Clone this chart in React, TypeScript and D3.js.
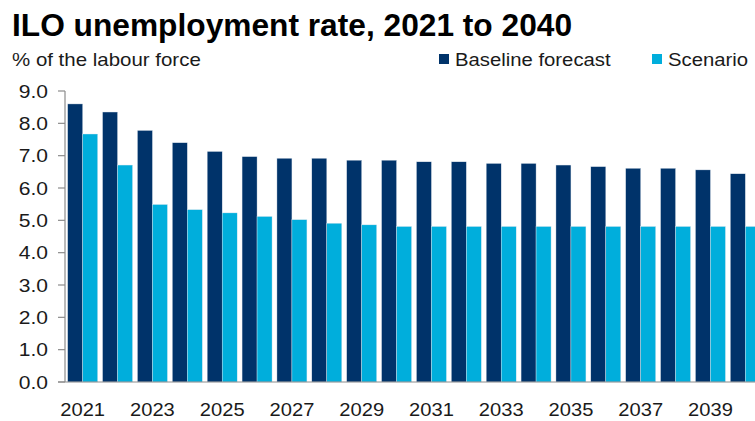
import React from "react";
import * as d3 from "d3";

const years = d3.range(2021, 2041).map(String);
const baseline = [8.6, 8.35, 7.78, 7.4, 7.13, 6.97, 6.92, 6.92, 6.86, 6.86, 6.81, 6.81, 6.76, 6.76, 6.71, 6.66, 6.61, 6.61, 6.56, 6.44];
const scenario = [7.67, 6.71, 5.49, 5.33, 5.23, 5.12, 5.02, 4.91, 4.86, 4.81, 4.81, 4.81, 4.81, 4.81, 4.81, 4.81, 4.81, 4.81, 4.81, 4.81];
const yTicks = [0, 1, 2, 3, 4, 5, 6, 7, 8, 9];
const xLabelYears = years.filter((_, i) => i % 2 === 0);
const seriesNames = ["Baseline forecast", "Scenario"];
const colors = ["#00336A", "#00AEDC"];

const FONT = "'Liberation Sans', Arial, sans-serif";
const SX = 1.15;

function T({ x, y, size, anchor = "start", children, sx = SX, weight = "normal", fill = "#1a1a1a" }: any) {
  return (
    <text
      transform={`translate(${x},${y}) scale(${sx},1)`}
      fontSize={size}
      fontFamily={FONT}
      textAnchor={anchor}
      fontWeight={weight}
      fill={fill}
    >
      {children}
    </text>
  );
}

export default function App() {
  const W = 755, H = 421;
  const axisX = 65;
  const x = d3.scaleBand<string>().domain(years).range([axisX, axisX + 698]).paddingInner(0.14).paddingOuter(0.077);
  const x1 = d3.scaleBand<number>().domain([0, 1]).range([0, x.bandwidth()]);
  const y = d3.scaleLinear().domain([0, 9]).range([382, 91]);
  const series = [baseline, scenario];

  return (
    <svg width={W} height={H} style={{ position: "absolute", left: 0, top: 0, background: "#fff" }}>
      <rect width={W} height={H} fill="#fff" />
      <text x={12} y={36} fontSize={31.7} fontFamily={FONT} fontWeight="bold" fill="#000">
        ILO unemployment rate, 2021 to 2040
      </text>
      <T x={12} y={66} size={17.5} sx={1.17}>% of the labour force</T>

      {/* legend */}
      <rect x={439} y={54} width={10} height={10} fill={colors[0]} />
      <T x={455} y={66} size={17.5} sx={1.16}>{seriesNames[0]}</T>
      <rect x={652} y={54} width={10} height={10} fill={colors[1]} />
      <T x={668} y={66} size={17.5} sx={1.16}>{seriesNames[1]}</T>

      {/* bars */}
      {series.map((vals, si) =>
        vals.map((v, i) => (
          <rect
            key={`${si}-${i}`}
            x={(x(years[i]) as number) + (x1(si) as number)}
            y={y(v)}
            width={x1.bandwidth()}
            height={y(0) - y(v)}
            fill={colors[si]}
            stroke="#dfe6ee"
            strokeWidth={0.4}
          />
        ))
      )}

      {/* y axis */}
      <line x1={axisX} x2={axisX} y1={y(9)} y2={y(0)} stroke="#8c8c8c" strokeWidth={1.2} />
      {yTicks.map((t) => (
        <g key={t}>
          <line x1={axisX - 7} x2={axisX} y1={y(t)} y2={y(t)} stroke="#8c8c8c" strokeWidth={1.2} />
          <T x={48} y={y(t) + 6.5} size={18} sx={1.17} anchor="end">{t.toFixed(1)}</T>
        </g>
      ))}
      {/* x axis */}
      <line x1={axisX - 7} x2={W} y1={y(0)} y2={y(0)} stroke="#8c8c8c" strokeWidth={1.2} />
      {xLabelYears.map((yr) => (
        <T key={yr} x={(x(yr) as number) + x.bandwidth() / 2} y={416} size={17.5} anchor="middle">{yr}</T>
      ))}
    </svg>
  );
}
